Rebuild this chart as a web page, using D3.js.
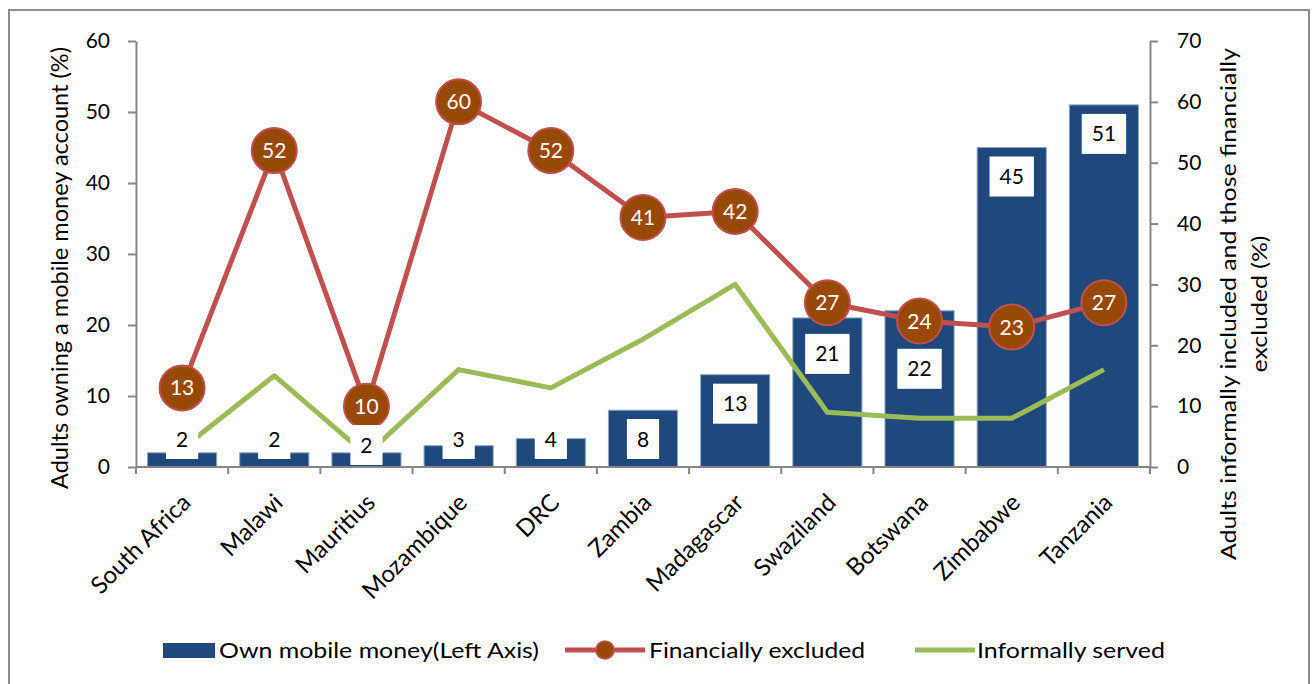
<!DOCTYPE html>
<html>
<head>
<meta charset="utf-8">
<script src="https://cdn.jsdelivr.net/npm/d3@7"></script>
<style>
  body { margin: 0; background: #fff; }
  text { font-family: Lato, "Open Sans", sans-serif; }
</style>
</head>
<body>
<script>
// Chart data
var categories = ["South Africa", "Malawi", "Mauritius", "Mozambique", "DRC", "Zambia",
                  "Madagascar", "Swaziland", "Botswana", "Zimbabwe", "Tanzania"];
var mobileMoney = [2, 2, 2, 3, 4, 8, 13, 21, 22, 45, 51];
var finExcluded = [13, 52, 10, 60, 52, 41, 42, 27, 24, 23, 27];
var informal = [3, 15, 2, 16, 13, 21, 30, 9, 8, 8, 16];
var leftTicks = [0, 10, 20, 30, 40, 50, 60];
var rightTicks = [0, 10, 20, 30, 40, 50, 60, 70];

var W = 1314, H = 684;
var plotL = 136, plotR = 1150, plotT = 41, plotB = 467;
var axisColor = "#868686";

var svg = d3.select("body").append("svg").attr("width", W).attr("height", H);

// outer frame
svg.append("rect").attr("x", 9).attr("y", 10).attr("width", 1300).attr("height", 690)
    .attr("fill", "none").attr("stroke", "#8c8c8c").attr("stroke-width", 2);

// scales
var x = d3.scaleBand().domain(categories).range([plotL, plotR]).paddingInner(0.25).paddingOuter(0.125);
var yL = d3.scaleLinear().domain([0, 60]).range([plotB, plotT]);
var yR = d3.scaleLinear().domain([0, 70]).range([plotB, plotT]);
var cx = function(c) { return x(c) + x.bandwidth() / 2; };

// bars
svg.append("g").selectAll("rect").data(categories).enter().append("rect")
    .attr("x", function(d) { return x(d); })
    .attr("y", function(d, i) { return yL(mobileMoney[i]); })
    .attr("width", x.bandwidth())
    .attr("height", function(d, i) { return plotB - yL(mobileMoney[i]); })
    .attr("fill", "#1f497d")
    .attr("stroke", "#8ea6c4").attr("stroke-width", 1);

// left axis
var gL = svg.append("g").attr("transform", "translate(" + plotL + ",0)")
    .call(d3.axisLeft(yL).tickValues(leftTicks).tickSize(8).tickSizeOuter(0).tickPadding(18));
// right axis
var gR = svg.append("g").attr("transform", "translate(" + plotR + ",0)")
    .call(d3.axisRight(yR).tickValues(rightTicks).tickSize(8).tickSizeOuter(0).tickPadding(19));
[gL, gR].forEach(function(g) {
    g.selectAll("path, line").attr("stroke", axisColor).attr("stroke-width", 2);
    g.selectAll("text").attr("font-size", 21).attr("fill", "#000").style("font-family", "Lato");
});

// x axis line + boundary ticks
var gX = svg.append("g").attr("transform", "translate(0," + plotB + ")");
gX.append("line").attr("x1", plotL).attr("x2", plotR).attr("stroke", axisColor).attr("stroke-width", 2);
gX.selectAll(".tk").data(d3.range(categories.length + 1)).enter().append("line")
    .attr("x1", function(i) { return plotL + i * x.step(); })
    .attr("x2", function(i) { return plotL + i * x.step(); })
    .attr("y1", 0).attr("y2", 7)
    .attr("stroke", axisColor).attr("stroke-width", 2);
gX.selectAll(".cat").data(categories).enter().append("text")
    .attr("transform", function(d) { return "translate(" + (cx(d) - 2) + ",25) rotate(-45)"; })
    .attr("text-anchor", "end").attr("dy", "0.71em")
    .attr("font-size", 24).text(function(d) { return d; });

// lines
var lineR = d3.line().x(function(d, i) { return cx(categories[i]); }).y(function(d) { return yR(d); });
svg.append("path").datum(informal).attr("d", lineR)
    .attr("fill", "none").attr("stroke", "#9bbb59").attr("stroke-width", 5).attr("stroke-linejoin", "round");
svg.append("path").datum(finExcluded).attr("d", lineR)
    .attr("fill", "none").attr("stroke", "#c0504d").attr("stroke-width", 5).attr("stroke-linejoin", "round");

// markers
var mk = svg.append("g").selectAll("g").data(finExcluded).enter().append("g")
    .attr("transform", function(d, i) { return "translate(" + cx(categories[i]) + "," + yR(d) + ")"; });
mk.append("circle").attr("r", 22.5).attr("fill", "#984807").attr("stroke", "#c0504d").attr("stroke-width", 2);
mk.append("text").attr("text-anchor", "middle").attr("dy", "0.36em")
    .attr("font-size", 21).attr("fill", "#fff").text(function(d) { return d; });

// bar data labels (drawn on top)
var nudge = { "Mauritius": 6, "Swaziland": 7, "Botswana": 29 };
var lb = svg.append("g").selectAll("g").data(categories).enter().append("g")
    .attr("transform", function(d, i) {
        var yc = Math.min(yL(mobileMoney[i]) + 29, plotB - 28) + (nudge[d] || 0);
        return "translate(" + cx(d) + "," + yc + ")";
    });
lb.append("rect").attr("fill", "#fff");
lb.append("text").attr("text-anchor", "middle").attr("dy", "0.36em")
    .attr("font-size", 21).attr("fill", "#000").text(function(d, i) { return mobileMoney[i]; });
lb.each(function() {
    var g = d3.select(this);
    var bb = g.select("text").node().getBBox();
    g.select("rect").attr("x", -bb.width / 2 - 10).attr("y", -20)
        .attr("width", bb.width + 20).attr("height", 40);
});

// axis titles
svg.append("text").attr("transform", "translate(68,268) rotate(-90)")
    .attr("text-anchor", "middle").attr("font-size", 23)
    .attr("textLength", 442).attr("lengthAdjust", "spacingAndGlyphs")
    .text("Adults owning a mobile money account (%)");
svg.append("text").attr("transform", "translate(1236,304) rotate(-90)")
    .attr("text-anchor", "middle").attr("font-size", 21)
    .attr("textLength", 512).attr("lengthAdjust", "spacingAndGlyphs")
    .text("Adults informally included and those financially");
svg.append("text").attr("transform", "translate(1267,304) rotate(-90)")
    .attr("text-anchor", "middle").attr("font-size", 21)
    .attr("textLength", 137).attr("lengthAdjust", "spacingAndGlyphs")
    .text("excluded (%)");

// legend
var lg = svg.append("g");
lg.append("rect").attr("x", 163).attr("y", 643).attr("width", 52).attr("height", 15).attr("fill", "#1f497d");
lg.append("text").attr("x", 219).attr("y", 658).attr("font-size", 22)
    .attr("textLength", 320).attr("lengthAdjust", "spacingAndGlyphs")
    .text("Own mobile money(Left Axis)");
lg.append("line").attr("x1", 565).attr("x2", 645).attr("y1", 650).attr("y2", 650)
    .attr("stroke", "#c0504d").attr("stroke-width", 5);
lg.append("circle").attr("cx", 605).attr("cy", 650).attr("r", 9)
    .attr("fill", "#984807").attr("stroke", "#c0504d").attr("stroke-width", 1.5);
lg.append("text").attr("x", 649).attr("y", 658).attr("font-size", 22)
    .attr("textLength", 216).attr("lengthAdjust", "spacingAndGlyphs")
    .text("Financially excluded");
lg.append("line").attr("x1", 915).attr("x2", 975).attr("y1", 650).attr("y2", 650)
    .attr("stroke", "#9bbb59").attr("stroke-width", 5);
lg.append("text").attr("x", 977).attr("y", 658).attr("font-size", 22)
    .attr("textLength", 188).attr("lengthAdjust", "spacingAndGlyphs")
    .text("Informally served");
</script>
</body>
</html>
